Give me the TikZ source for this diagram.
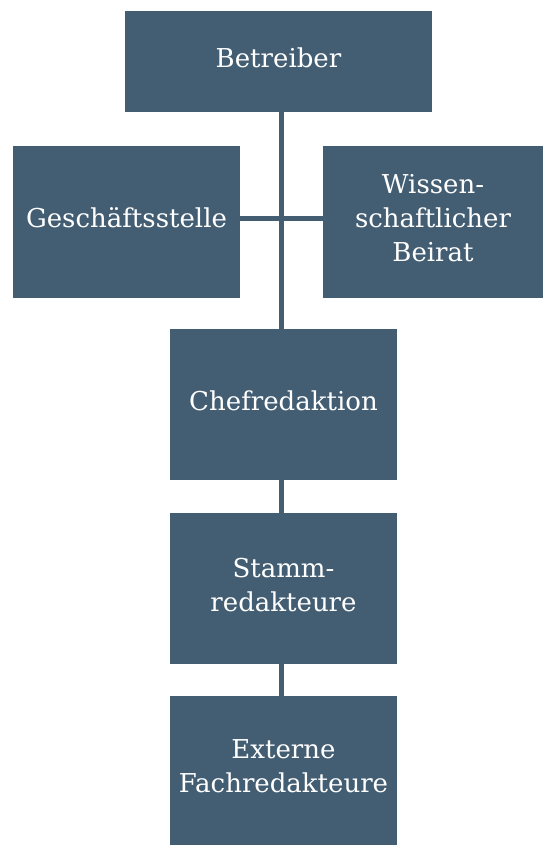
\documentclass[tikz,border=0pt]{standalone}
\usepackage{fontspec}
\setmainfont{DejaVu Serif}
\definecolor{boxblue}{RGB}{67,94,115}
\begin{document}
\begin{tikzpicture}[x=1pt, y=1pt,
        box/.style={fill=boxblue, text=white, align=center, inner sep=0pt, text depth=8pt,
          font=\fontsize{26}{34}\selectfont},
        link/.style={draw=boxblue, line width=5pt}]
        \useasboundingbox (0,0) rectangle (543,-845);

        \node (betreiber) at (278.5,-61.5) [box, minimum width=307, minimum height=101] {Betreiber};
        \node (gs) at (126.5,-222) [box, minimum width=227, minimum height=152] {Geschäftsstelle};
        \node (wb) at (433,-222) [box, minimum width=220, minimum height=152] {Wissen-\\schaftlicher\\Beirat};
        \node (chef) at (283.5,-404.5) [box, minimum width=227, minimum height=151] {Chefredaktion};
        \node (stamm) at (283.5,-588.5) [box, minimum width=227, minimum height=151] {Stamm-\\redakteure};
        \node (extern) at (283.5,-770.5) [box, minimum width=227, minimum height=149] {Externe\\Fachredakteure};

        \coordinate (spine) at (281,-218);
        \draw[link] (spine |- betreiber.south) -- (spine |- chef.north);
        \draw[link] (gs.east |- spine) -- (wb.west |- spine);
        \draw[link] (spine |- chef.south) -- (spine |- stamm.north);
        \draw[link] (spine |- stamm.south) -- (spine |- extern.north);
        \end{tikzpicture}
\end{document}
